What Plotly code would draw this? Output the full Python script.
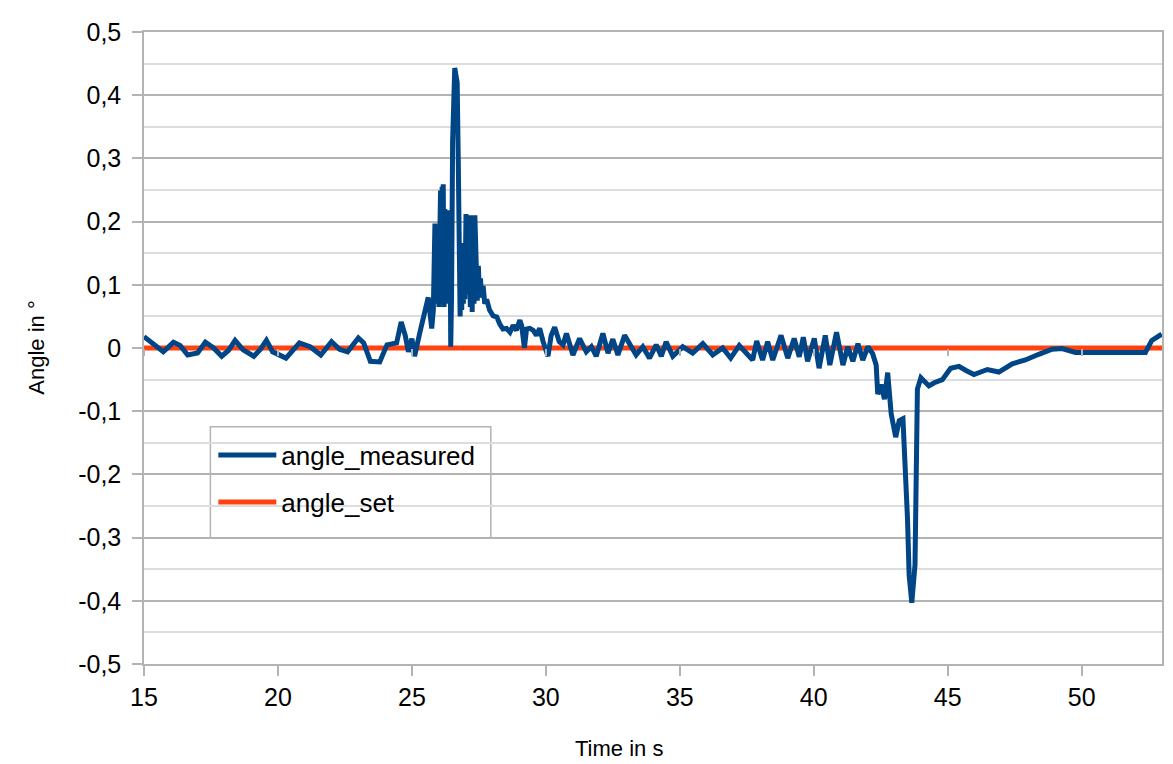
import plotly.graph_objects as go

# ---- data ----
time_s = [
    15.0, 15.06, 15.35, 15.72, 16.1, 16.35, 16.63, 17.0, 17.29, 17.6, 17.9, 18.15, 18.4, 18.7,
    19.1, 19.35, 19.57, 19.8, 20.3, 20.55, 20.8, 21.2, 21.6, 22.0, 22.3, 22.6, 23.0, 23.2,
    23.45, 23.8, 24.07, 24.43, 24.6, 24.75, 24.87, 25.0, 25.1, 25.3, 25.5, 25.61, 25.74, 25.8,
    25.86, 25.89, 25.92, 25.95, 25.98, 26.01, 26.04, 26.07, 26.10, 26.13, 26.15, 26.17, 26.20,
    26.23, 26.26, 26.30, 26.33, 26.36, 26.39, 26.42, 26.45, 26.48, 26.52, 26.56, 26.60, 26.65,
    26.69, 26.73, 26.77, 26.80, 26.83, 26.86, 26.89, 26.92, 26.95, 26.98, 27.02, 27.05, 27.09,
    27.12, 27.15, 27.18, 27.21, 27.25, 27.29, 27.32, 27.35, 27.38, 27.41, 27.44, 27.48, 27.52,
    27.56, 27.6, 27.66, 27.72, 27.79, 27.9, 28.03, 28.17, 28.28, 28.4, 28.53,
    28.66, 28.78, 28.9, 29.03, 29.1, 29.2, 29.28, 29.4, 29.53, 29.65, 29.77, 29.9, 30.08,
    30.2, 30.33, 30.5, 30.64, 30.77, 31.01, 31.26, 31.51, 31.7, 31.88, 32.13, 32.32, 32.5,
    32.69, 32.94, 33.19, 33.37, 33.62, 33.87, 34.12, 34.31, 34.49, 34.74, 35.11, 35.48,
    35.86, 36.23, 36.6, 36.9, 37.22, 37.4, 37.72, 37.87, 38.09, 38.28, 38.47, 38.78, 38.9,
    39.03, 39.27, 39.46, 39.61, 39.77, 40.02, 40.2, 40.43, 40.6, 40.85, 40.95, 41.09, 41.27,
    41.46, 41.65, 41.83, 42.02, 42.2, 42.33, 42.39, 42.51, 42.64, 42.76, 42.89, 43.06, 43.19,
    43.33, 43.41, 43.5, 43.56, 43.66, 43.78, 43.83, 43.87, 44.0, 44.3, 44.5, 44.8, 45.11,
    45.42, 45.7, 45.98, 46.48, 46.91, 47.41, 47.9, 48.4, 48.9, 49.27, 49.77, 50.26, 51.0,
    51.88, 52.38, 52.62, 52.99,
]
angle_measured = [
    0.018, 0.016, 0.005, -0.006, 0.009, 0.004, -0.011, -0.008, 0.009, 0.0, -0.013, -0.004, 0.012, -0.003,
    -0.013, -0.002, 0.012, -0.006, -0.016, -0.004, 0.008, 0.002, -0.011, 0.01, -0.002, -0.006, 0.016, 0.008,
    -0.021, -0.022, 0.005, 0.008, 0.041, 0.02, -0.006, 0.015, -0.013, 0.025, 0.057, 0.08, 0.031, 0.06,
    0.197, 0.07, 0.19, 0.075, 0.185, 0.065, 0.17, 0.249, 0.08, 0.255, 0.07, 0.259, 0.065,
    0.22, 0.07, 0.218, 0.075, 0.215, 0.07, 0.218, 0.002, 0.08, 0.327, 0.44, 0.443, 0.43,
    0.42, 0.3, 0.171, 0.05, 0.16, 0.06, 0.166, 0.07, 0.14, 0.077, 0.212, 0.085, 0.2,
    0.09, 0.21, 0.065, 0.21, 0.057, 0.205, 0.07, 0.21, 0.12, 0.16, 0.075, 0.13, 0.09,
    0.11, 0.08, 0.098, 0.07, 0.077, 0.06, 0.051, 0.049, 0.038, 0.03, 0.031,
    0.025, 0.036, 0.028, 0.044, 0.035, 0.0, 0.03, 0.031, 0.028, 0.02, 0.031, 0.01, -0.013,
    0.02, 0.033, 0.01, 0.005, 0.023, -0.011, 0.015, -0.006, 0.002, -0.013, 0.023, -0.008, 0.014,
    -0.011, 0.02, 0.002, -0.011, 0.002, -0.016, 0.005, -0.013, 0.01, -0.013, 0.002, -0.008,
    0.007, -0.011, 0.0, -0.016, 0.004, -0.004, -0.019, 0.011, -0.019, 0.01, -0.019, 0.02, 0.004,
    -0.016, 0.015, -0.014, 0.017, -0.021, 0.015, -0.032, 0.02, -0.027, 0.025, 0.004, -0.027, 0.002,
    -0.021, 0.007, -0.019, 0.002, -0.009, -0.027, -0.073, -0.058, -0.081, -0.039, -0.104, -0.141, -0.115,
    -0.112, -0.172, -0.27, -0.359, -0.403, -0.343, -0.167, -0.065, -0.047, -0.06, -0.055, -0.05, -0.032,
    -0.029, -0.036, -0.042, -0.034, -0.038, -0.025, -0.019, -0.01, -0.002, -0.001, -0.007, -0.007, -0.007,
    -0.007, -0.007, 0.012, 0.022,
]
set_time = [15.0, 53.0]
angle_set = [0.0, 0.0]

y_ticks = [0.5, 0.4, 0.3, 0.2, 0.1, 0.0, -0.1, -0.2, -0.3, -0.4, -0.5]
y_labels = ["0,5", "0,4", "0,3", "0,2", "0,1", "0", "-0,1", "-0,2", "-0,3", "-0,4", "-0,5"]
x_ticks = [15, 20, 25, 30, 35, 40, 45, 50]
x_labels = ["15", "20", "25", "30", "35", "40", "45", "50"]

BLUE = "#004586"
ORANGE = "#ff420e"
GRID = "#b3b3b3"
MINOR = "#dddddd"
FONT = "Liberation Sans, Arial, sans-serif"

fig = go.Figure()
fig.add_trace(go.Scatter(x=set_time, y=angle_set, mode="lines", name="angle_set",
                         line=dict(color=ORANGE, width=5), legendrank=2, legendgroup="b"))
fig.add_trace(go.Scatter(x=time_s, y=angle_measured, mode="lines", name="angle_measured",
                         line=dict(color=BLUE, width=5), legendrank=1, legendgroup="a"))
# invisible trace on the overlay axis so its ticks (at y = 0) get drawn
fig.add_trace(go.Scatter(x=set_time, y=angle_set, mode="lines", xaxis="x2", showlegend=False,
                         line=dict(color="rgba(0,0,0,0)", width=0), hoverinfo="skip"))

# plot area in window pixels: x 143.5..1163.5, y 22..664 (page has an 8px body margin)
fig.update_layout(
    width=1165, height=756,
    margin=dict(l=135.5, r=9.5, t=14, b=100),
    paper_bgcolor="white", plot_bgcolor="white",
    font=dict(family=FONT, size=25, color="#000000"),
    showlegend=True,
    legend=dict(x=0.0681, y=0.3676, xanchor="left", yanchor="top",
                bgcolor="rgba(0,0,0,0)", borderwidth=0,
                font=dict(family=FONT, size=26, color="#000000"),
                itemwidth=58, tracegroupgap=10, traceorder="grouped"),
    shapes=[dict(type="rect", xref="paper", yref="paper",
                 x0=0.0652, x1=0.3407, y0=0.1994, y1=0.3754,
                 line=dict(color=GRID, width=1.5), fillcolor="white", layer="between")],
    xaxis=dict(range=[15, 53], tickvals=x_ticks, ticktext=x_labels,
               showgrid=False, zeroline=False, showline=True, linecolor=GRID, linewidth=1.5,
               mirror=True, ticks="outside", ticklen=10, tickcolor=GRID, tickwidth=1.5,
               ticklabeloverflow="allow",
               tickfont=dict(family=FONT, size=25, color="#000000")),
    xaxis2=dict(range=[15, 53], overlaying="x", anchor="free", position=0.5, side="bottom",
                tickvals=x_ticks, showticklabels=False, showgrid=False, zeroline=False,
                showline=False, ticks="outside", ticklen=7, tickcolor=GRID, tickwidth=1.5),
    yaxis=dict(range=[-0.5, 0.5], tickvals=y_ticks, ticktext=y_labels,
               showgrid=True, gridcolor=GRID, gridwidth=1.5, zeroline=False,
               showline=True, linecolor=GRID, linewidth=1.5, mirror=True,
               ticks="outside", ticklen=10, tickcolor=GRID, tickwidth=1.5,
               ticklabelstandoff=6, ticklabeloverflow="allow",
               tickfont=dict(family=FONT, size=25, color="#000000"),
               minor=dict(dtick=0.05, tick0=0, showgrid=True, gridcolor=MINOR, gridwidth=1.5)),
    annotations=[
        dict(text="Time in s", xref="paper", yref="paper", x=0.467, y=-0.134,
             xanchor="center", yanchor="middle", showarrow=False,
             font=dict(family=FONT, size=22, color="#000000")),
        dict(text="Angle in °", xref="paper", yref="paper", x=-0.1064, y=0.5,
             xanchor="center", yanchor="middle", textangle=-90, showarrow=False,
             font=dict(family=FONT, size=22, color="#000000")),
    ],
)

fig.write_html("out.html")
